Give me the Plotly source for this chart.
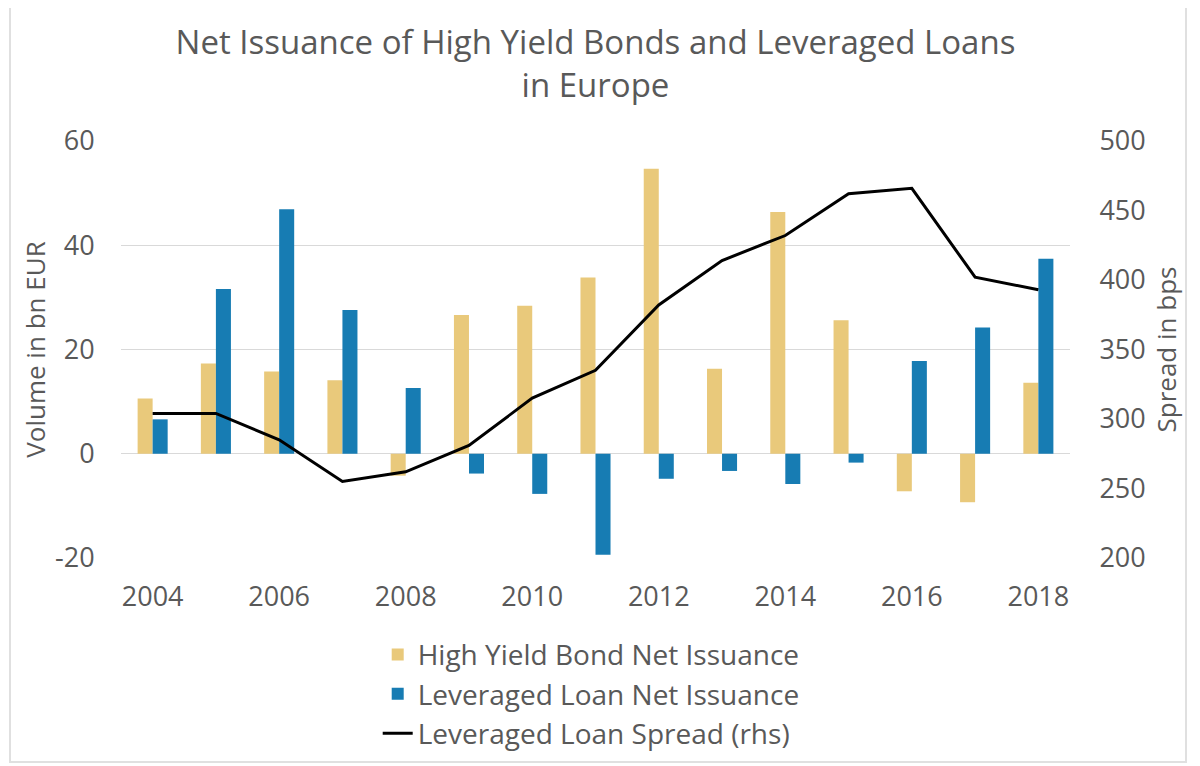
import plotly.graph_objects as go

years = list(range(2004, 2019))
hy_bonds = [10.6, 17.3, 15.8, 14.1, -4.2, 26.6, 28.4, 33.8, 54.7, 16.3, 46.4, 25.6, -7.2, -9.3, 13.6]
lev_loans = [6.6, 31.6, 46.9, 27.6, 12.6, -3.8, -7.7, -19.4, -4.8, -3.3, -5.8, -1.7, 17.8, 24.2, 37.4]
spread = [304, 304, 285, 255, 262, 281, 315, 335, 382, 414, 432, 462, 466, 402, 393]
x_ticks = [2004, 2006, 2008, 2010, 2012, 2014, 2016, 2018]
left_ticks = [-20, 0, 20, 40, 60]
left_labels = ["-20", "0", "20", "40", "60"]
right_ticks = [200, 250, 300, 350, 400, 450, 500]

FONT = "Open Sans"
TXT = "#595959"
YELLOW = "#E9C97B"
BLUE = "#177CB3"

fig = go.Figure()
fig.add_trace(go.Bar(x=years, y=hy_bonds, name="High Yield Bond Net Issuance",
                     legendgroup="a", marker=dict(color=YELLOW, line=dict(width=0))))
fig.add_trace(go.Bar(x=years, y=lev_loans, name="Leveraged Loan Net Issuance",
                     legendgroup="b", marker=dict(color=BLUE, line=dict(width=0))))
fig.add_trace(go.Scatter(x=years, y=spread, name="Leveraged Loan Spread (rhs)",
                         legendgroup="c", mode="lines", line=dict(color="black", width=3),
                         yaxis="y2"))

L, T, R, B = 113, 133, 138, 216
PW, PH = 1200 - L - R, 766 - T - B

fig.update_layout(
    width=1200, height=766,
    paper_bgcolor="white", plot_bgcolor="white",
    margin=dict(l=L, r=R, t=T, b=B, autoexpand=False),
    font=dict(family=FONT, color=TXT, size=24),
    barmode="group", bargap=0.525, bargroupgap=0,
    title=dict(text="Net Issuance of High Yield Bonds and Leveraged Loans<br>in Europe",
               x=0.5, xanchor="center", xref="paper", y=1 - 46 / 766, yanchor="middle",
               yref="container", automargin=False,
               font=dict(family=FONT, size=33, color=TXT)),
    xaxis=dict(range=[2003.5, 2018.5], tickmode="array", tickvals=x_ticks,
               ticktext=[str(v) for v in x_ticks], showgrid=False, zeroline=False,
               showline=False, ticks="outside", ticklen=15, tickcolor="rgba(0,0,0,0)",
               tickfont=dict(size=27, color=TXT), automargin=False),
    yaxis=dict(range=[-20, 60], tickmode="array", tickvals=left_ticks, ticktext=left_labels,
               showgrid=True, gridcolor="#D9D9D9", gridwidth=1, zeroline=False,
               showline=False, ticks="outside", ticklen=20, tickcolor="rgba(0,0,0,0)",
               tickfont=dict(size=27, color=TXT), automargin=False,
               title=dict(text="Volume in bn EUR", font=dict(size=26, color=TXT), standoff=1)),
    yaxis2=dict(range=[200, 500], tickmode="array", tickvals=right_ticks,
                overlaying="y", side="right", showgrid=False, zeroline=False,
                showline=False, ticks="outside", ticklen=23, tickcolor="rgba(0,0,0,0)",
                tickfont=dict(size=27, color=TXT), automargin=False,
                title=dict(text="Spread in bps", font=dict(size=26, color=TXT), standoff=13)),
    legend=dict(orientation="v", x=0.2705, xanchor="left", y=-0.172, yanchor="top",
                font=dict(size=28, color=TXT), bgcolor="rgba(0,0,0,0)",
                traceorder="normal", itemwidth=30, tracegroupgap=2),
    showlegend=True,
)

# light frame around the chart
fig.add_shape(type="rect", xref="paper", yref="paper",
              x0=(2 - L) / PW, x1=(1178 - L) / PW,
              y0=(T + PH - 754) / PH, y1=(T + PH + 3) / PH,
              line=dict(color="#E0E0E0", width=2), fillcolor="rgba(0,0,0,0)", layer="below")

fig.write_html("out.html")
